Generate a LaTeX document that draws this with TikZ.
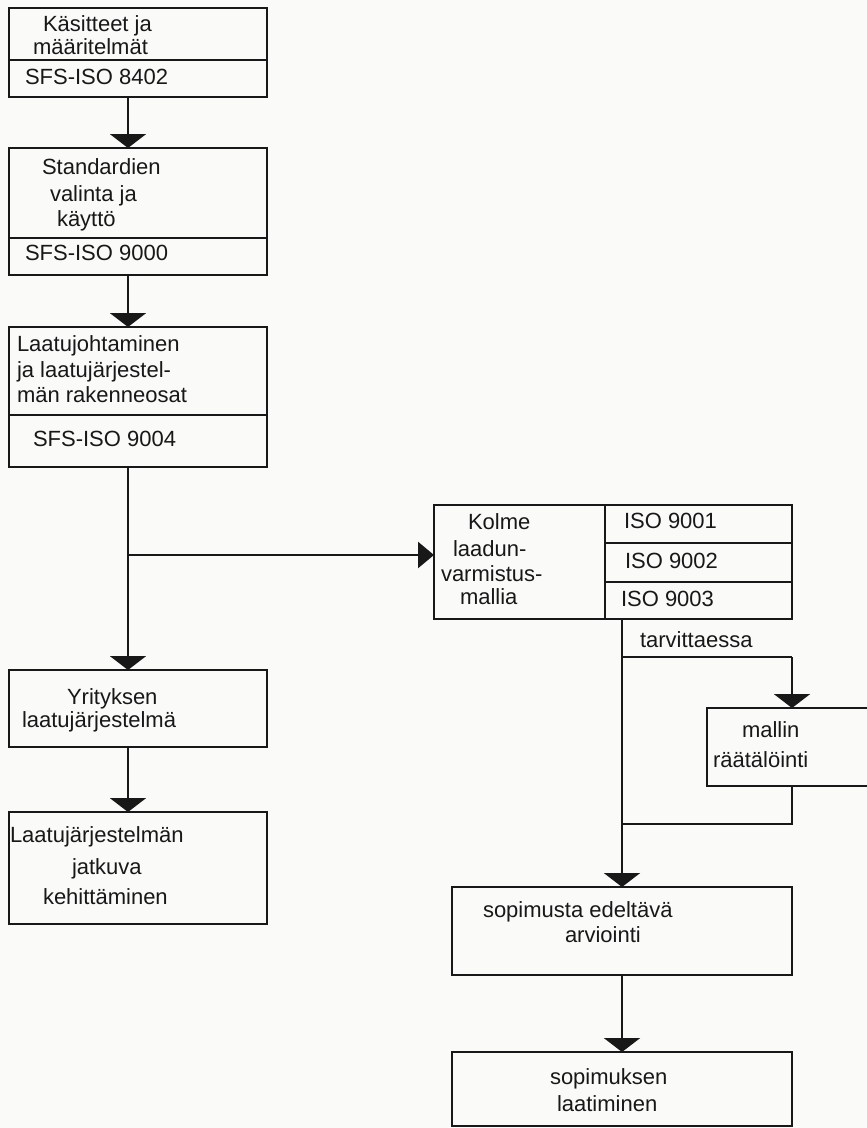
\documentclass[tikz,border=0pt]{standalone}
\usepackage{fontspec}
\setmainfont{Liberation Sans}
\usetikzlibrary{arrows.meta}
\definecolor{ink}{RGB}{24,24,24}
\definecolor{paper}{RGB}{250,250,248}
\begin{document}
\begin{tikzpicture}[x=1pt,y=-1pt,
  cell/.style={draw=ink, line width=2.6pt, inner sep=0pt, outer sep=0pt, anchor=north west},
  txt/.style={anchor=mid west, inner sep=0pt, outer sep=0pt, text=ink, yshift=-2pt,
    font=\fontsize{22}{26}\selectfont},
  link/.style={draw=ink, line width=2.6pt},
  down/.style={link, -{Triangle[width=36pt,length=14pt]}},
  side/.style={link, -{Triangle[width=26pt,length=16pt]}}]
\useasboundingbox (0,0) rectangle (867,1128);
\fill[paper] (0,0) rectangle (867,1128);
\clip (0,0) rectangle (867,1128);

% left column of boxes
\node[cell, minimum width=258pt, minimum height=52pt] (b1a) at (9,8) {};
\node[cell, minimum width=258pt, minimum height=37pt] (b1b) at (9,60) {};
\node[cell, minimum width=258pt, minimum height=90pt] (b2a) at (9,148) {};
\node[cell, minimum width=258pt, minimum height=37pt] (b2b) at (9,238) {};
\node[cell, minimum width=258pt, minimum height=88pt] (b3a) at (9,327) {};
\node[cell, minimum width=258pt, minimum height=52pt] (b3b) at (9,415) {};
\node[cell, minimum width=258pt, minimum height=77pt] (yr) at (9,670) {};
\node[cell, minimum width=258pt, minimum height=112pt] (kj) at (9,812) {};

% right column of boxes
\node[cell, minimum width=171pt, minimum height=114pt] (km) at (434,505) {};
\node[cell, minimum width=187pt, minimum height=38pt] (iso1) at (605,505) {};
\node[cell, minimum width=187pt, minimum height=39pt] (iso2) at (605,543) {};
\node[cell, minimum width=187pt, minimum height=37pt] (iso3) at (605,582) {};
\node[cell, minimum width=180pt, minimum height=78pt] (mr) at (707,708) {};
\node[cell, minimum width=340pt, minimum height=88pt] (se) at (452,887) {};
\node[cell, minimum width=340pt, minimum height=74pt] (sl) at (452,1052) {};

% texts
\node[txt] (t1) at (43,27) {Käsitteet ja};
\node[txt] (t2) at (33,50) {määritelmät};
\node[txt] (t3) at (25,80) {SFS-ISO 8402};
\node[txt] (t4) at (42,170) {Standardien};
\node[txt] (t5) at (50,197) {valinta ja};
\node[txt] (t6) at (57,222) {käyttö};
\node[txt] (t7) at (25,256) {SFS-ISO 9000};
\node[txt] (t8) at (17,347) {Laatujohtaminen};
\node[txt] (t9) at (17,373) {ja laatujärjestel-};
\node[txt] (t10) at (17,398) {män rakenneosat};
\node[txt] (t11) at (33,442) {SFS-ISO 9004};
\node[txt] (t12) at (67,700) {Yrityksen};
\node[txt] (t13) at (22,723) {laatujärjestelmä};
\node[txt] (t14) at (10,838) {Laatujärjestelmän};
\node[txt] (t15) at (72,870) {jatkuva};
\node[txt] (t16) at (43,900) {kehittäminen};
\node[txt] (t17) at (468,525) {Kolme};
\node[txt] (t18) at (453,552) {laadun-};
\node[txt] (t19) at (441,577) {varmistus-};
\node[txt] (t20) at (460,600) {mallia};
\node[txt] (t21) at (624,524) {ISO 9001};
\node[txt] (t22) at (625,564) {ISO 9002};
\node[txt] (t23) at (621,602) {ISO 9003};
\node[txt] (t24) at (640,643) {tarvittaessa};
\node[txt] (t25) at (742,733) {mallin};
\node[txt] (t26) at (713,763) {räätälöinti};
\node[txt] (t27) at (483,913) {sopimusta edeltävä};
\node[txt] (t28) at (565,938) {arviointi};
\node[txt] (t29) at (550,1080) {sopimuksen};
\node[txt] (t30) at (557,1107) {laatiminen};

% routing points
\coordinate (lane) at (128,0);
\coordinate (split) at (128,555);
\coordinate (rlane) at (622,0);
\coordinate (fork) at (622,657);
\coordinate (forkR) at (792,657);
\coordinate (joinR) at (792,824);
\coordinate (join) at (622,824);

% connectors, left column
\draw[down] (b1b.south -| lane) -- (b2a.north -| lane);
\draw[down] (b2b.south -| lane) -- (b3a.north -| lane);
\draw[down] (b3b.south -| lane) -- (yr.north -| lane);
\draw[down] (yr.south -| lane) -- (kj.north -| lane);
\draw[side] (split) -- (km.west |- split);

% connectors, right column
\draw[down] (iso3.south -| rlane) -- (se.north -| rlane);
\draw[link] (fork) -- (forkR);
\draw[down] (forkR) -- (mr.north -| forkR);
\draw[link] (mr.south -| joinR) -- (joinR) -- (join);
\draw[down] (se.south -| rlane) -- (sl.north -| rlane);
\end{tikzpicture}
\end{document}
